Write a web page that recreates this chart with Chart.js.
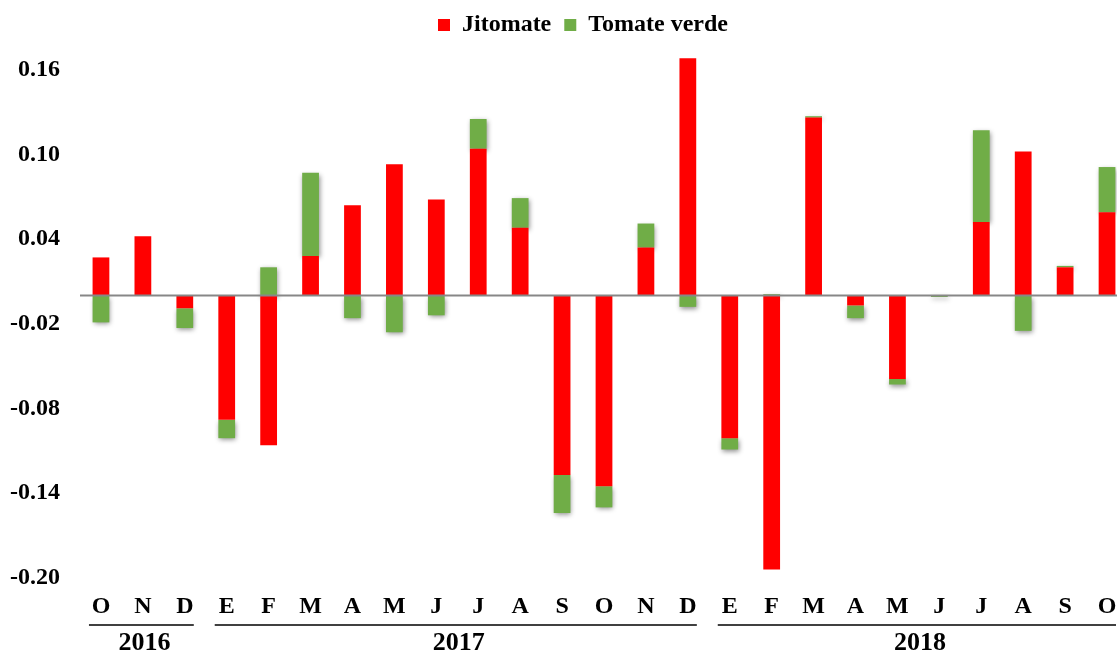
<!DOCTYPE html>
<html>
<head>
<meta charset="utf-8">
<script src="https://cdn.jsdelivr.net/npm/chart.js@4.4.1/dist/chart.umd.min.js"></script>
<style>
  html, body { margin: 0; padding: 0; background: #fff; overflow: hidden; }
</style>
</head>
<body>
<canvas id="chart" width="1128" height="654"></canvas>
<script>
// months, Oct 2016 - Oct 2018
const months = ['O','N','D','E','F','M','A','M','J','J','A','S','O','N','D','E','F','M','A','M','J','J','A','S','O'];
const years = ['2016', '2017', '2018'];
const monthsPerYear = [3, 12, 10];

// contribution by product
const jitomate = [0.027, 0.042, -0.009, -0.088, -0.106, 0.028, 0.064, 0.093, 0.068, 0.104, 0.048, -0.127, -0.135, 0.034, 0.168,
                  -0.101, -0.194, 0.126, -0.007, -0.059, 0.000, 0.052, 0.102, 0.020, 0.059];
const tomateVerde = [-0.019, 0.000, -0.014, -0.013, 0.020, 0.059, -0.016, -0.026, -0.014, 0.021, 0.021, -0.027, -0.015, 0.017, -0.008,
                     -0.008, 0.001, 0.001, -0.009, -0.004, -0.001, 0.065, -0.025, 0.001, 0.032];

const yTicks = [-0.20, -0.14, -0.08, -0.02, 0.04, 0.10, 0.16];

const FONT = 'Liberation Serif, Times New Roman, serif';

// drop shadow only on the green stack
const shadowPlugin = {
    id: 'shadow',
    beforeDatasetDraw(chart, args) {
        if (args.index !== 1) return;
        const c = chart.ctx;
        c.save();
        c.shadowColor = 'rgba(0,0,0,0.45)';
        c.shadowBlur = 5;
        c.shadowOffsetX = 1;
        c.shadowOffsetY = 2;
    },
    afterDatasetDraw(chart, args) {
        if (args.index === 1) chart.ctx.restore();
    }
};

// legend sits a bit right of the canvas centre in the original
const legendShift = {
    id: 'legendShift',
    afterLayout(chart) {
        if (!chart.legend) return;
        chart.legend.left += 19;
        chart.legend.right += 19;
    }
};

// zero line over the bars
const zeroLine = {
    id: 'zeroLine',
    afterDatasetsDraw(chart) {
        const { ctx, chartArea, scales } = chart;
        const y = scales.y.getPixelForValue(0);
        ctx.save();
        ctx.strokeStyle = '#878787';
        ctx.lineWidth = 2;
        ctx.beginPath();
        ctx.moveTo(chartArea.left, y);
        ctx.lineTo(chartArea.right, y);
        ctx.stroke();
        ctx.restore();
    }
};

// year row under the month labels
const yearRow = {
    id: 'yearRow',
    afterDraw(chart) {
        const { ctx } = chart;
        const x = chart.scales.x;
        let start = 0;
        ctx.save();
        ctx.fillStyle = '#000';
        ctx.strokeStyle = '#000';
        ctx.lineWidth = 1.5;
        ctx.font = 'bold 26px ' + FONT;
        ctx.textAlign = 'center';
        ctx.textBaseline = 'middle';
        years.forEach((yr, i) => {
            const n = monthsPerYear[i];
            const x0 = x.getPixelForValue(start) - 12;
            const x1 = x.getPixelForValue(start + n - 1) + 9;
            ctx.beginPath();
            ctx.moveTo(x0, 625);
            ctx.lineTo(x1, 625);
            ctx.stroke();
            ctx.fillText(yr, (x0 + x1) / 2 + 3, 643);
            start += n;
        });
        ctx.restore();
    }
};

new Chart(document.getElementById('chart'), {
    type: 'bar',
    data: {
        labels: months,
        datasets: [
            { label: 'Jitomate', data: jitomate, backgroundColor: '#FF0000', borderWidth: 0 },
            { label: 'Tomate verde', data: tomateVerde, backgroundColor: '#70AD47', borderWidth: 0 }
        ]
    },
    options: {
        responsive: false,
        animation: false,
        layout: { padding: 0 },
        datasets: { bar: { barPercentage: 0.4, categoryPercentage: 1.0 } },
        plugins: {
            tooltip: { enabled: false },
            legend: {
                position: 'top',
                labels: {
                    boxWidth: 12,
                    boxHeight: 12,
                    padding: 13,
                    color: '#000',
                    font: { family: FONT, size: 24, weight: 'bold' }
                }
            }
        },
        scales: {
            x: {
                stacked: true,
                grid: { display: false, drawTicks: false },
                border: { display: false },
                ticks: {
                    color: '#000',
                    padding: 14,
                    autoSkip: false,
                    maxRotation: 0,
                    font: { family: FONT, size: 24, weight: 'bold' }
                },
                afterFit(scale) {
                    scale.height = 76;
                    scale.paddingLeft = 0;
                    scale.paddingRight = 0;
                }
            },
            y: {
                stacked: true,
                min: -0.20,
                max: 0.176,
                grid: { display: false, drawTicks: false },
                border: { display: false },
                ticks: {
                    color: '#000',
                    padding: 20,
                    font: { family: FONT, size: 24, weight: 'bold' },
                    callback: (v) => Number(v).toFixed(2)
                },
                afterBuildTicks(scale) { scale.ticks = yTicks.map(v => ({ value: v })); },
                afterFit(scale) { scale.width = 80; }
            }
        }
    },
    plugins: [shadowPlugin, legendShift, zeroLine, yearRow]
});
</script>
</body>
</html>
